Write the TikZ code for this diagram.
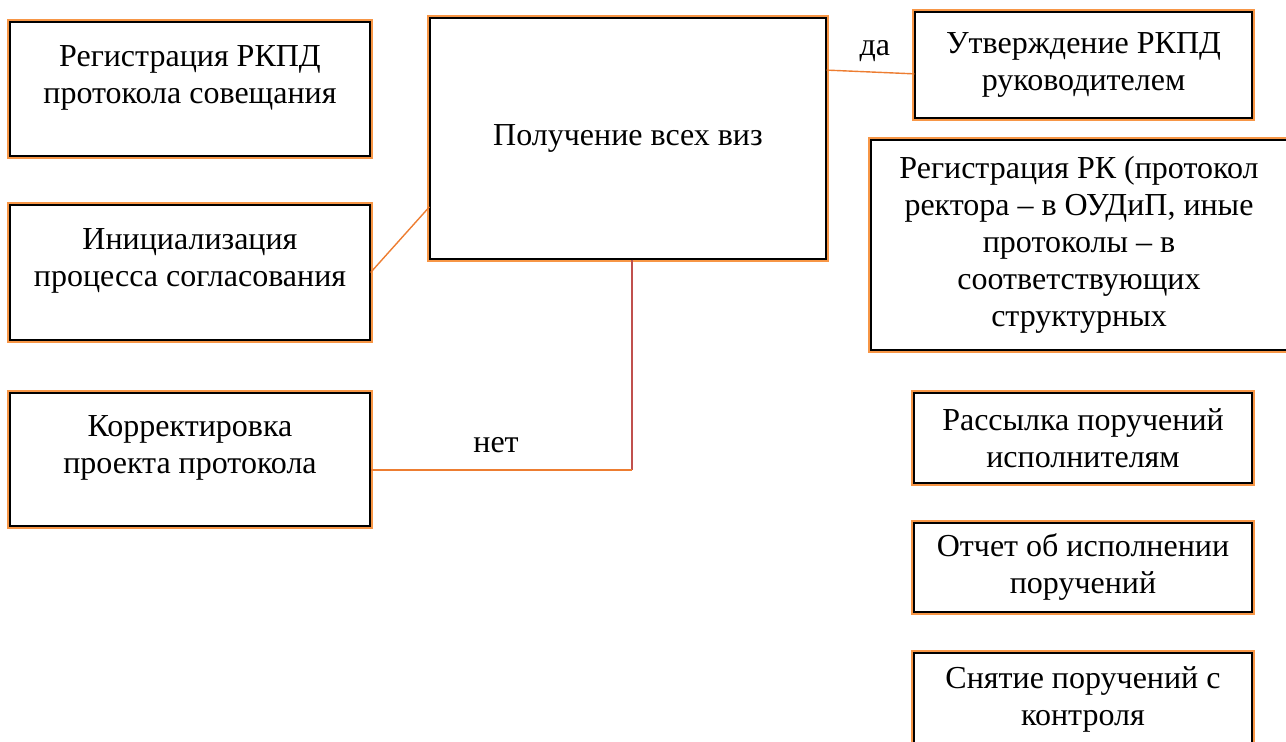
\documentclass[tikz,border=0pt]{standalone}
\usepackage{fontspec}
\setmainfont{Liberation Serif}
\definecolor{boxOrange}{HTML}{F79646}
\definecolor{lineOrange}{HTML}{ED7D31}
\definecolor{lineRed}{HTML}{C0504D}
\begin{document}
\begin{tikzpicture}[x=0.5pt,y=-0.5pt,
    stepBox/.style={draw=black, line width=0.6pt, fill=white,
      preaction={draw=boxOrange, line width=3.2pt},
      align=center, inner sep=0pt,
      font=\fontsize{16}{18.5}\selectfont},
    orangeLink/.style={draw=lineOrange, line width=0.7pt},
    redLink/.style={draw=lineRed, line width=0.7pt},
    linkText/.style={font=\fontsize{16}{18.5}\selectfont, inner sep=0pt}
  ]
  \useasboundingbox (0,0) rectangle (1286,742);

  % left column
  \node[stepBox, minimum width=180pt, minimum height=67pt] (regBox) at (190,89)
    {Регистрация РКПД\\протокола совещания\\[-4pt]\mbox{}};
  \node[stepBox, minimum width=180pt, minimum height=67.5pt] (initBox) at (190,272.5)
    {Инициализация\\процесса согласования\\[-4pt]\mbox{}};
  \node[stepBox, minimum width=180pt, minimum height=66.5pt] (corrBox) at (190,459.5)
    {Корректировка\\проекта протокола\\[-4pt]\mbox{}};

  % centre
  \node[stepBox, minimum width=198pt, minimum height=120.5pt] (visaBox) at (628,138.5)
    {Получение всех виз};

  % right column
  \node[stepBox, minimum width=168.5pt, minimum height=53pt] (approveBox) at (1083.5,65)
    {Утверждение РКПД\\руководителем};
  \node[stepBox, minimum width=208pt, minimum height=105pt] (regRkBox) at (1079,245)
    {Регистрация РК (протокол\\ректора – в ОУДиП, иные\\протоколы – в\\соответствующих\\структурных};
  \node[stepBox, minimum width=169pt, minimum height=45pt] (sendBox) at (1083,438)
    {Рассылка поручений\\исполнителям};
  \node[stepBox, minimum width=169pt, minimum height=44.5pt] (reportBox) at (1083,567.5)
    {Отчет об исполнении\\поручений};
  \node[stepBox, minimum width=169pt, minimum height=46pt] (removeBox) at (1083,699)
    {Снятие поручений с\\контроля};

  % links
  \draw[orangeLink] (initBox.east) -- (visaBox.199);
  \draw[orangeLink] (visaBox.19) -- (approveBox.183)
    node[linkText, pos=0.55, above=5pt] (yesLabel) {да};
  \coordinate (noBend) at (632,470);
  \draw[redLink] (visaBox.south -| noBend) -- (noBend);
  \draw[orangeLink] (noBend) -- (corrBox.east |- noBend)
    node[linkText, pos=0.52, above=8pt] (noLabel) {нет};
\end{tikzpicture}
\end{document}
